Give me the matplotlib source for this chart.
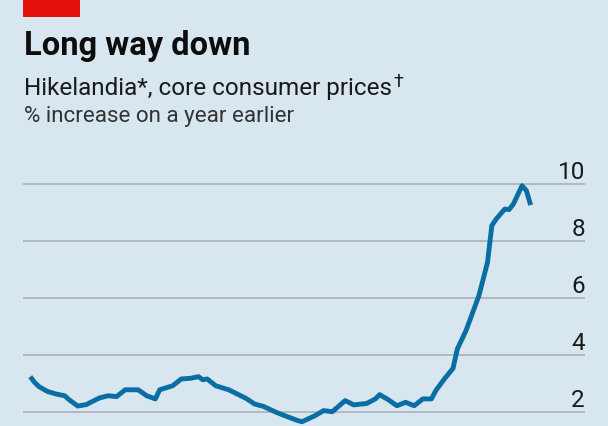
import matplotlib
matplotlib.use("Agg")
import matplotlib.pyplot as plt
from matplotlib.patches import Rectangle

# ---- data ----
months = [0, 1, 2, 4, 6, 8, 9, 11, 13, 14, 16, 18, 20, 22, 25, 27, 29, 30, 33, 35,
          37, 39, 40, 41, 43, 46, 48, 50, 52, 54, 57, 59, 62, 63, 66, 68, 70, 73, 75,
          78, 80, 81, 83, 85, 87, 89, 91, 93, 94, 96, 98, 99, 101, 104, 106, 107, 108,
          110, 111, 112, 114, 115, 116]
core_cpi = [3.24, 3.04, 2.89, 2.72, 2.63, 2.57, 2.43, 2.21, 2.26, 2.34, 2.49, 2.57, 2.54,
            2.78, 2.78, 2.57, 2.46, 2.78, 2.92, 3.16, 3.18, 3.24, 3.13, 3.16, 2.92, 2.78,
            2.63, 2.48, 2.28, 2.20, 1.99, 1.87, 1.70, 1.66, 1.87, 2.05, 2.01, 2.40, 2.25,
            2.30, 2.46, 2.61, 2.43, 2.22, 2.34, 2.22, 2.46, 2.46, 2.75, 3.16, 3.53, 4.21,
            4.85, 6.08, 7.25, 8.54, 8.77, 9.12, 9.10, 9.30, 9.94, 9.77, 9.26]
y_ticks = [2, 4, 6, 8, 10]
y_tick_labels = ["2", "4", "6", "8", "10"]

title = "Long way down"
subtitle = "Hikelandia*, core consumer prices"
subtitle2 = "% increase on a year earlier"

BG = "#d7e6ef"
LINE = "#0a6ea4"
GRID = "#a7b3ba"
FONT = ["Roboto", "DejaVu Sans"]

W, H = 608, 427
fig = plt.figure(figsize=(W / 100, H / 100), dpi=100, facecolor=BG)

def fx(px):
    return px / W

def fy(py):
    return 1 - py / H

# axes: x from 23 to 585 px, y from 160 px to bottom
ax = fig.add_axes([fx(23), 0, fx(585) - fx(23), fy(160)])
ax.set_facecolor(BG)
ax.set_xlim(-1.69, 128.6)
ax.set_ylim(1.509, 10.877)
for s in ax.spines.values():
    s.set_visible(False)
ax.set_xticks([])
ax.set_yticks([])

for v, lab in zip(y_ticks, y_tick_labels):
    ax.axhline(v, color=GRID, lw=1.2, zorder=1)
    ax.annotate(lab, xy=(1, v), xycoords=("axes fraction", "data"),
                xytext=(0, 6), textcoords="offset pixels",
                ha="right", va="baseline", fontsize=17.5,
                family=FONT, color="#1a1a1a", annotation_clip=False)

ax.plot(months, core_cpi, color=LINE, lw=3.5, solid_joinstyle="round",
        solid_capstyle="butt", zorder=3, clip_on=False)

# red tag
fig.patches.append(Rectangle((fx(22.7), fy(18.3)), fx(80) - fx(22.7), fy(0) - fy(18.3),
                             transform=fig.transFigure, color="#e3120b", lw=0))

renderer = fig.canvas.get_renderer()

def fit_text(x, y, s, target_w, size0, **kw):
    t = fig.text(fx(x), fy(y), s, fontsize=size0, va="baseline", ha="left", **kw)
    bb = t.get_window_extent(renderer)
    t.set_fontsize(size0 * target_w / bb.width)
    return t

fit_text(24, 55, title, 226, 22, family=FONT, weight="bold", color="#0d0d0d")
st = fit_text(24, 95, subtitle, 368, 16, family=FONT, color="#1a1a1a")
bb = st.get_window_extent(renderer)
fig.text(bb.x1 / W + fx(1.5), fy(87), "†", fontsize=st.get_fontsize() * 0.75,
         family=FONT, color="#1a1a1a", va="baseline", ha="left")
fit_text(24, 122, subtitle2, 271, 15, family=FONT, color="#333333")

fig.savefig("out.png", dpi=100, facecolor=BG)
